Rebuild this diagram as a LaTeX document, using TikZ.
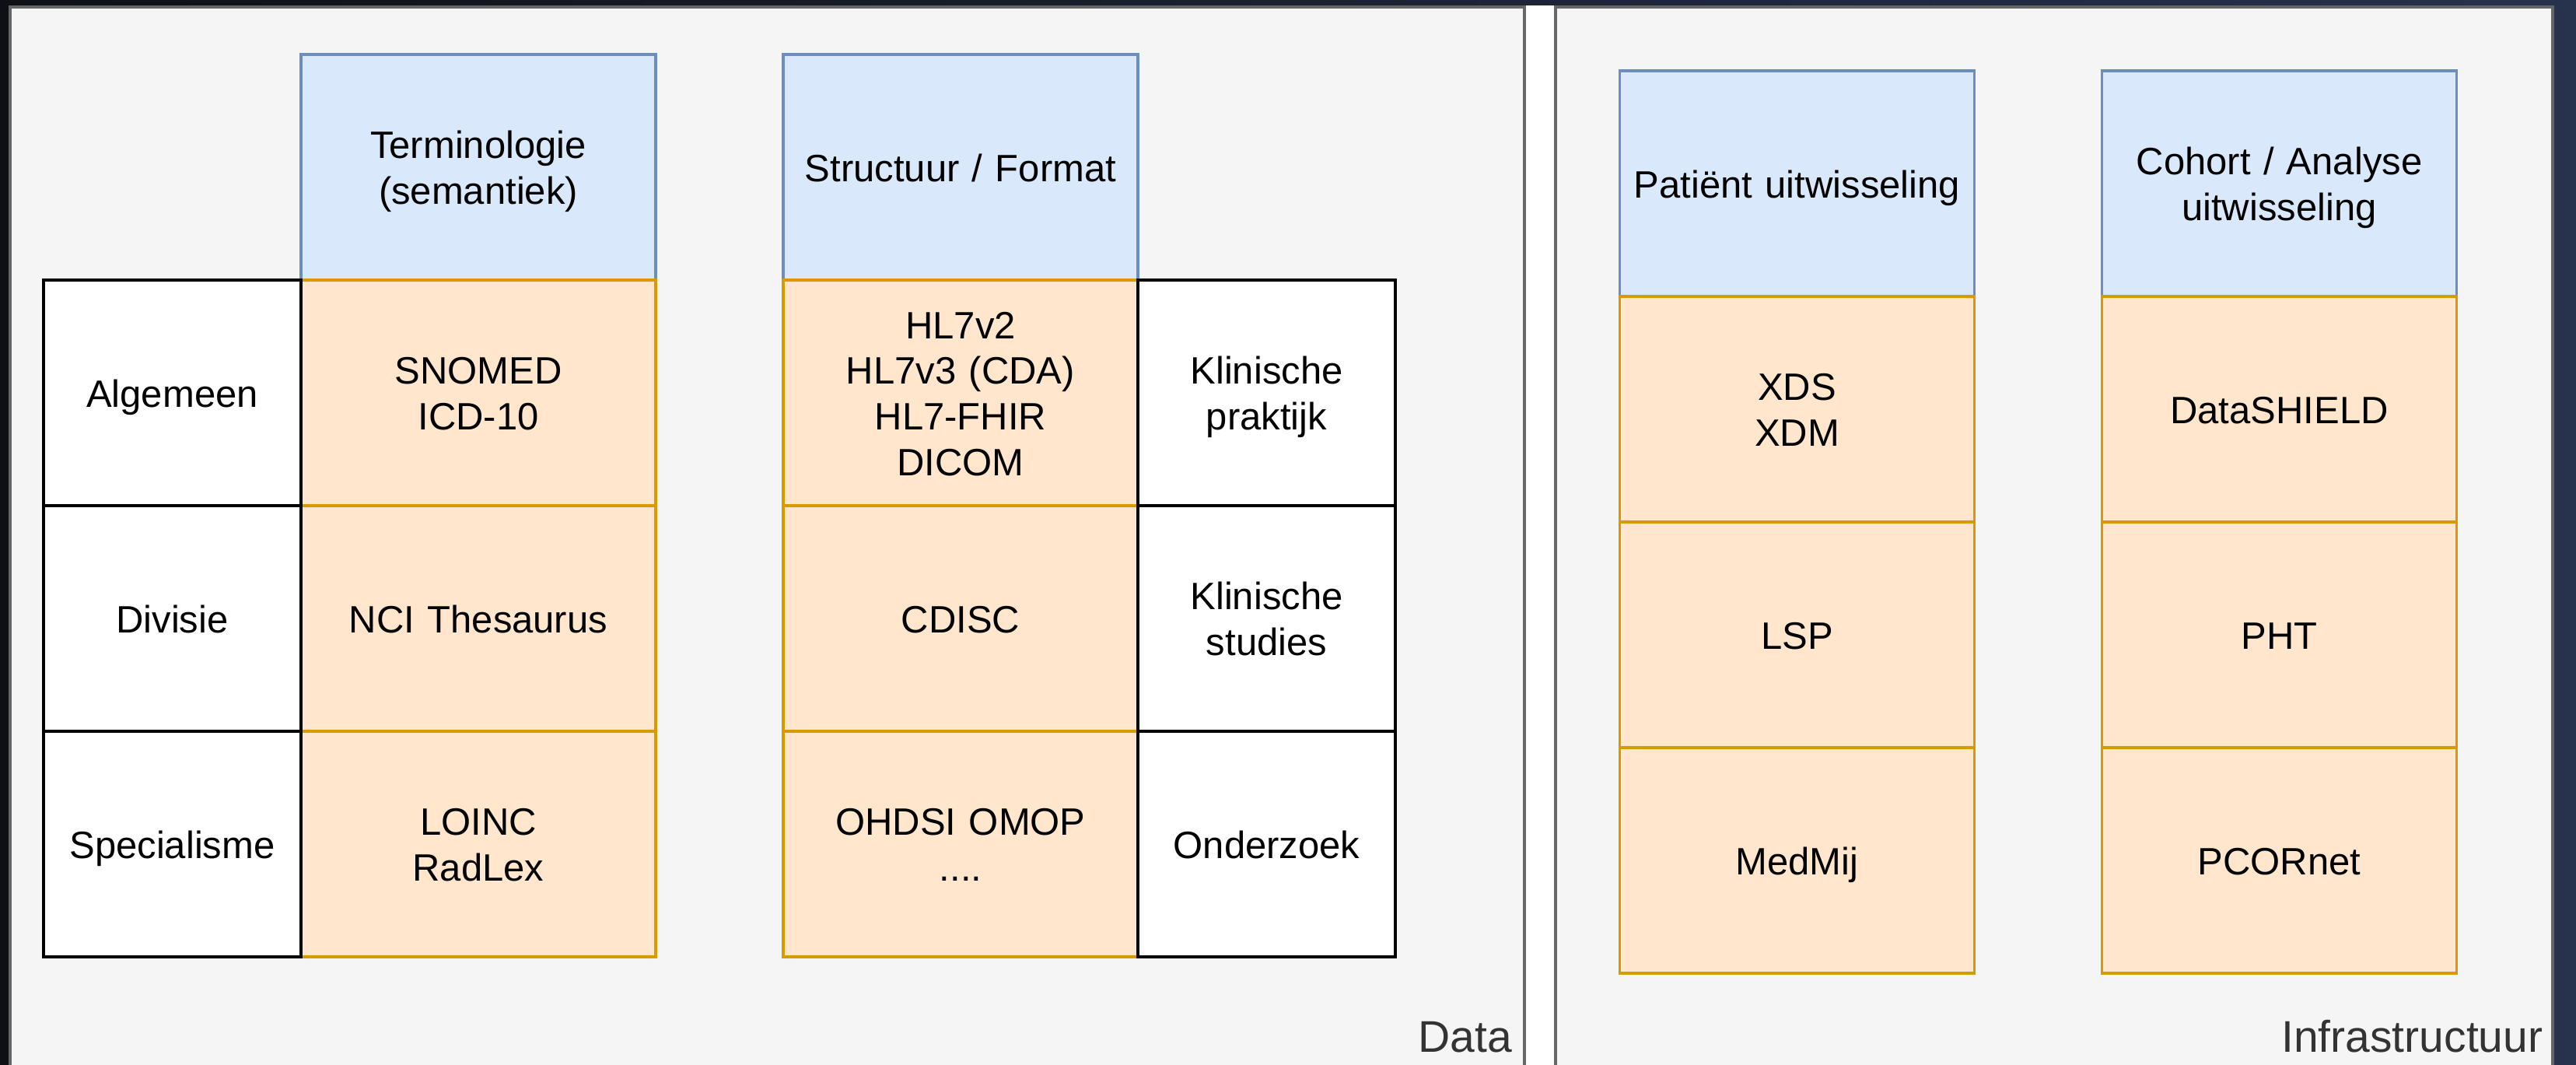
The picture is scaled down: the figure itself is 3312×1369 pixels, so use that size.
\documentclass[tikz,border=0pt]{standalone}
\usepackage{fontspec}
\setmainfont{Liberation Sans}
\usetikzlibrary{positioning}

\definecolor{kopvul}{HTML}{DAE8FC}
\definecolor{koplijn}{HTML}{6C8EBF}
\definecolor{stdvul}{HTML}{FFE6CC}
\definecolor{stdlijn}{HTML}{D79B00}
\definecolor{panelvul}{HTML}{F5F5F5}
\definecolor{panellijn}{HTML}{666666}
\definecolor{paneltekst}{HTML}{333333}
\definecolor{achtergrondL}{HTML}{0E1016}
\definecolor{achtergrondR}{HTML}{27324C}

\newcommand{\celfont}{\fontsize{12.25}{14.7}\selectfont}
\newcommand{\panelfont}{\fontsize{14.25}{17.1}\selectfont}

\tikzset{
  cel/.style={rectangle, line width=0.85pt, outer sep=0pt, inner sep=0pt,
    minimum width=114pt, minimum height=72.5pt, text width=114pt, align=center, font=\celfont,
    execute at begin node={\vrule width 0pt height 1em depth 0pt\relax},
    execute at end node={\vrule width 0pt height 0pt depth 0.25em\relax}},
  kop/.style={cel, draw=koplijn, fill=kopvul},
  std/.style={cel, draw=stdlijn, fill=stdvul},
  rij/.style={cel, draw=black, fill=white, minimum width=82.75pt, text width=82.75pt},
  paneltitel/.style={anchor=base east, inner sep=0pt, text=paneltekst, font=\panelfont},
}

\begin{document}
\begin{tikzpicture}[x=0.25pt, y=-0.25pt]
  % achtergrond
  \useasboundingbox (0,0) rectangle (3312,1369);
  \shade[left color=achtergrondL, right color=achtergrondR] (0,0) rectangle (3312,1369);
  \fill[white] (1958,7) rectangle (2002,1369);

  % panelen
  \fill[panelvul] (13,9) rectangle (1960,1369);
  \draw[panellijn, line width=0.85pt] (13,1369) -- (13,9) -- (1960,9) -- (1960,1369);
  \fill[panelvul] (2000,9) rectangle (3282,1369);
  \draw[panellijn, line width=0.85pt] (2000,1369) -- (2000,9) -- (3282,9) -- (3282,1369);
  \node[paneltitel] (data) at (1945,1352) {Data};
  \node[paneltitel] (infra) at (3270,1352) {Infrastructuur};

  % terminologie
  \node[kop] (term) at (615,215) {Terminologie\\(semantiek)};
  \node[std, below=0pt of term] (snomed) {SNOMED\\ICD-10};
  \node[std, below=0pt of snomed] (nci) {NCI Thesaurus};
  \node[std, below=0pt of nci] (loinc) {LOINC\\RadLex};
  \node[rij, left=0pt of snomed] (algemeen) {Algemeen};
  \node[rij, left=0pt of nci] (divisie) {Divisie};
  \node[rij, left=0pt of loinc] (special) {Specialisme};

  % structuur
  \node[kop] (struct) at (1235,215) {Structuur / Format};
  \node[std, below=0pt of struct] (hl7) {HL7v2\\HL7v3 (CDA)\\HL7-FHIR\\DICOM};
  \node[std, below=0pt of hl7] (cdisc) {CDISC};
  \node[std, below=0pt of cdisc] (omop) {OHDSI OMOP\\....};
  \node[rij, right=0pt of hl7] (praktijk) {Klinische\\praktijk};
  \node[rij, right=0pt of cdisc] (studies) {Klinische\\studies};
  \node[rij, right=0pt of omop] (onderzoek) {Onderzoek};

  % infrastructuur
  \node[kop] (patient) at (2310.5,236) {Patiënt uitwisseling};
  \node[std, below=0pt of patient] (xds) {XDS\\XDM};
  \node[std, below=0pt of xds] (lsp) {LSP};
  \node[std, below=0pt of lsp] (medmij) {MedMij};
  \node[kop] (cohort) at (2930.5,236) {Cohort / Analyse\\uitwisseling};
  \node[std, below=0pt of cohort] (shield) {DataSHIELD};
  \node[std, below=0pt of shield] (pht) {PHT};
  \node[std, below=0pt of pht] (pcornet) {PCORnet};
\end{tikzpicture}
\end{document}
